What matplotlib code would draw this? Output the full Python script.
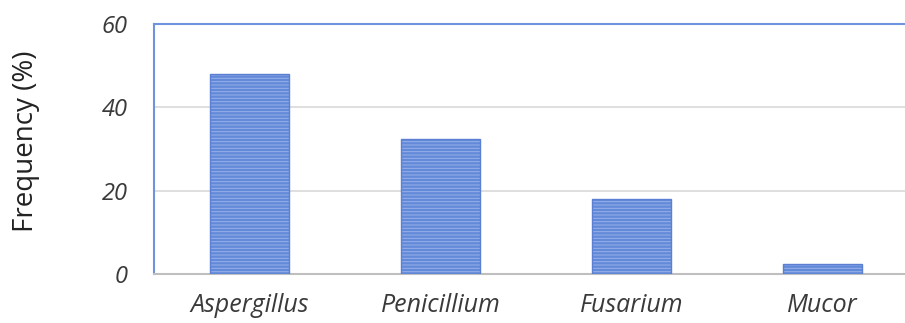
import matplotlib
matplotlib.use("Agg")
import matplotlib.pyplot as plt

# genus frequencies
genera = ["Aspergillus", "Penicillium", "Fusarium", "Mucor"]
frequency = [48, 32.5, 18, 2.5]
y_ticks = [0, 20, 40, 60]

plt.rcParams['hatch.linewidth'] = 0.7

fig = plt.figure(figsize=(9.05, 3.23), dpi=100)
ax = fig.add_axes([154/905, 49/323, 4*191/905, 250/323])

x = range(len(genera))
# striped fill, then a darker outline on top
ax.bar(x, frequency, width=0.41, color="#6389d9",
       edgecolor="#98b2e9", linewidth=0, hatch="-----", zorder=3)
ax.bar(x, frequency, width=0.41, fill=False,
       edgecolor="#5a7fd3", linewidth=1.0, zorder=4)

ax.set_xlim(-0.5, len(genera) - 0.5)
ax.set_ylim(0, 60)
ax.set_yticks(y_ticks)
ax.set_xticks(list(x))
ax.set_xticklabels(genera, fontstyle="italic", fontsize=18,
                   family="Open Sans", color="#3a3a3a")
ax.set_yticklabels([str(t) for t in y_ticks], fontstyle="italic",
                   fontsize=17, family="Open Sans", color="#3a3a3a")
ax.tick_params(axis="both", length=0)
ax.tick_params(axis="y", pad=19)
ax.tick_params(axis="x", pad=14)

ax.grid(axis="y", color="#d9d9d9", linewidth=1.2, zorder=0)
ax.spines["left"].set_color("#6f93dc")
ax.spines["top"].set_color("#6f93dc")
ax.spines["left"].set_linewidth(1.5)
ax.spines["top"].set_linewidth(1.5)
ax.spines["bottom"].set_color("#bfbfbf")
ax.spines["bottom"].set_linewidth(1.5)
ax.spines["right"].set_visible(False)

ax.set_ylabel("Frequency (%)", fontsize=20, family="Open Sans",
              color="#222222")
ax.yaxis.set_label_coords(-0.149, 0.53)

fig.savefig("out.png", dpi=100)
